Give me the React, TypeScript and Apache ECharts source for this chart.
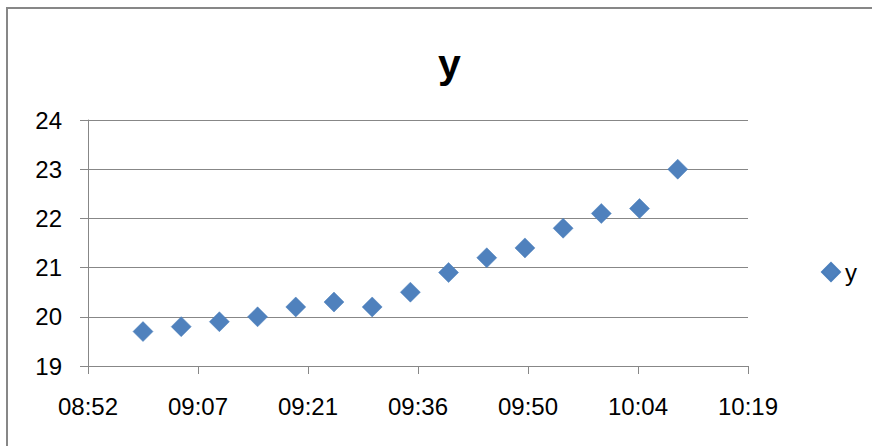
import React, { useEffect, useRef } from "react";
import * as echarts from "echarts";

const times = ["09:00", "09:05", "09:10", "09:15", "09:20", "09:25", "09:30", "09:35", "09:40", "09:45", "09:50", "09:55", "10:00", "10:05", "10:10"];
const values = [19.7, 19.8, 19.9, 20.0, 20.2, 20.3, 20.2, 20.5, 20.9, 21.2, 21.4, 21.8, 22.1, 22.2, 23.0];
const seriesName = "y";
// Excel date-axis: 0.37 day .. 0.43 day, step 0.01 day (in minutes)
const xStepMin = 14.4;
const xMinSteps = 37;
const xMaxSteps = 43;
const yMin = 19;
const yMax = 24;
const yStep = 1;

const toMin = (t: string) => {
  const [h, m] = t.split(":").map(Number);
  return h * 60 + m;
};
const fmt = (v: number) => {
  const total = Math.floor(v + 1e-6);
  const h = Math.floor(total / 60);
  const m = total % 60;
  return String(h).padStart(2, "0") + ":" + String(m).padStart(2, "0");
};

const FONT = "'Liberation Sans', Arial, sans-serif";
const GRAY = "#878787";

export default function App() {
  const ref = useRef<HTMLDivElement>(null);
  useEffect(() => {
    if (!ref.current) return;
    const chart = echarts.init(ref.current, null, { renderer: "svg" });
    chart.setOption({
      animation: false,
      backgroundColor: "#ffffff",
      title: {
        text: seriesName,
        left: 433,
        top: 38,
        textStyle: { fontFamily: FONT, fontSize: 41, fontWeight: "bold", color: "#000" },
      },
      legend: {
        data: [seriesName],
        left: 816,
        top: 255,
        icon: "diamond",
        itemWidth: 18,
        itemHeight: 18,
        textStyle: { fontFamily: FONT, fontSize: 24, color: "#000" },
      },
      grid: { left: 88, right: 124, top: 120, bottom: 80, containLabel: false },
      xAxis: {
        type: "value",
        min: xStepMin * xMinSteps,
        max: xStepMin * xMaxSteps,
        interval: xStepMin,
        axisLine: { show: true, onZero: false, lineStyle: { color: GRAY, width: 1 } },
        axisTick: { show: true, inside: false, length: 8, lineStyle: { color: GRAY } },
        splitLine: { show: false },
        axisLabel: {
          formatter: (v: number) => fmt(v),
          fontFamily: FONT,
          fontSize: 24,
          color: "#000",
          margin: 28,
          showMaxLabel: true,
          showMinLabel: true,
        },
      },
      yAxis: {
        type: "value",
        min: yMin,
        max: yMax,
        interval: yStep,
        axisLine: { show: true, onZero: false, lineStyle: { color: GRAY, width: 1 } },
        axisTick: { show: true, inside: false, length: 8, lineStyle: { color: GRAY } },
        splitLine: { show: true, lineStyle: { color: GRAY, width: 1 } },
        axisLabel: { fontFamily: FONT, fontSize: 24, color: "#000", margin: 26 },
      },
      series: [
        {
          name: seriesName,
          type: "scatter",
          symbol: "diamond",
          symbolSize: 20,
          itemStyle: { color: "#4F81BD", opacity: 1, borderColor: "#4A7EBB", borderWidth: 0.5 },
          data: times.map((t, i) => [toMin(t), values[i]]),
        },
      ],
      graphic: [
        { type: "line", shape: { x1: 7, y1: 7, x2: 7, y2: 446 }, style: { stroke: GRAY, lineWidth: 2 } },
        { type: "line", shape: { x1: 6, y1: 8, x2: 872, y2: 8 }, style: { stroke: GRAY, lineWidth: 2 } },
      ],
    });
    return () => chart.dispose();
  }, []);
  return (
    <div
      ref={ref}
      style={{ position: "absolute", left: 0, top: 0, width: 872, height: 446 }}
    />
  );
}
